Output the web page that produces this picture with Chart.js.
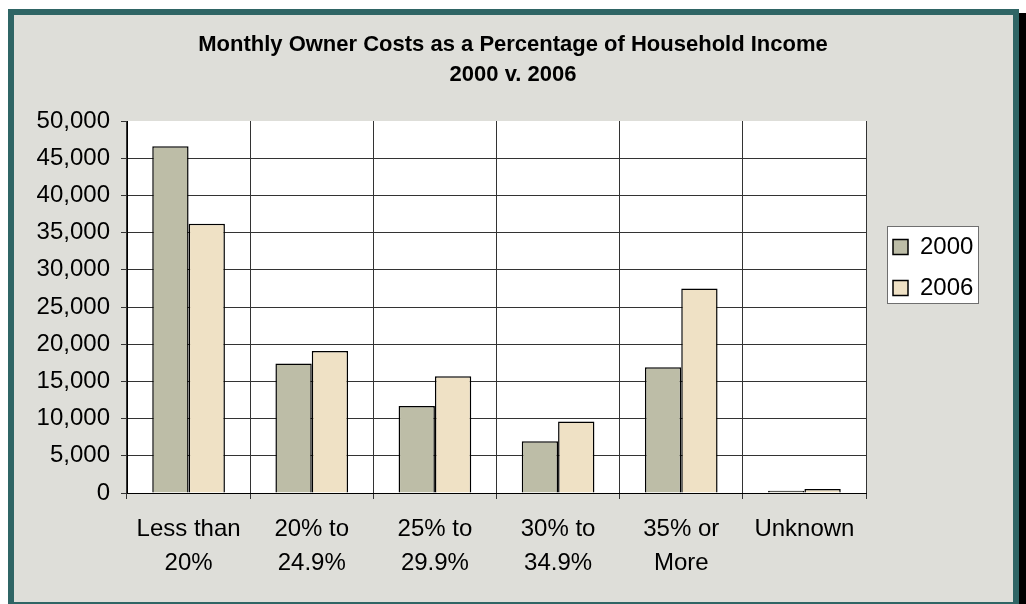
<!DOCTYPE html>
<html>
<head>
<meta charset="utf-8">
<script src="https://cdn.jsdelivr.net/npm/chart.js@4.4.0/dist/chart.umd.min.js"></script>
<style>
  html, body { margin: 0; padding: 0; background: #fff; }
  #wrap { position: relative; width: 1026px; height: 604px; overflow: hidden; }
  #frame { position: absolute; left: 8px; top: 9px; width: 999px; height: 587px;
           background: #DEDED9; border: 6px solid #2F6565; box-shadow: 7px 4px 0 #000; }
  #chart { position: absolute; left: 0; top: 0; }
</style>
</head>
<body>
<div id="wrap">
  <div id="frame"></div>
  <canvas id="chart" width="1026" height="604"></canvas>
</div>
<script>
// data
const categories = [['Less than', '20%'], ['20% to', '24.9%'], ['25% to', '29.9%'], ['30% to', '34.9%'], ['35% or', 'More'], ['Unknown']];
const seriesNames = ['2000', '2006'];
const values2000 = [46600, 17400, 11700, 6950, 16900, 300];
const values2006 = [36200, 19100, 15700, 9600, 27500, 550];
const yMin = 0, yMax = 50000, yStep = 5000;
const titleLines = ['Monthly Owner Costs as a Percentage of Household Income', '2000 v. 2006'];

Chart.defaults.font.family = "'Liberation Sans', Arial, sans-serif";
Chart.defaults.color = '#000';

// white plot area, boxed legend, title centred on the whole frame
const plotBg = {
  id: 'plotBg',
  beforeDraw(chart) {
    const { ctx, chartArea: a, legend, titleBlock } = chart;
    ctx.save();
    ctx.fillStyle = '#fff';
    ctx.fillRect(a.left, a.top, a.right - a.left, a.bottom - a.top);
    legend.left = 876;
    legend.top = 218;
    legend.right = 990;
    legend.bottom = 320;
    legend.width = legend.right - legend.left;
    legend.height = legend.bottom - legend.top;
    titleBlock.left = 0;
    titleBlock.right = 1026;
    titleBlock.width = 1026;
    ctx.fillRect(887, 226, 92, 78);
    ctx.strokeStyle = '#6f6f6f';
    ctx.lineWidth = 1;
    ctx.strokeRect(887.5, 226.5, 91, 77);
    ctx.restore();
  }
};

const getCanvas = document.getElementById('chart');
let configChart = {
  type: 'bar',
  data: {
    labels: categories,
    datasets: [
      {
        label: seriesNames[0],
        data: values2000,
        backgroundColor: '#BDBDA7',
        borderColor: '#000',
        borderWidth: 1.5
      },
      {
        label: seriesNames[1],
        data: values2006,
        backgroundColor: '#EFE1C5',
        borderColor: '#000',
        borderWidth: 1.5
      }
    ]
  },
  options: {
    responsive: false,
    animation: false,
    devicePixelRatio: 1,
    datasets: { bar: { categoryPercentage: 0.59, barPercentage: 1 } },
    layout: { padding: { left: 16, right: 160, top: 0, bottom: 0 } },
    plugins: {
      tooltip: { enabled: false },
      title: {
        display: true,
        text: titleLines,
        font: { size: 22, weight: 'bold', lineHeight: 30 / 22 },
        padding: { top: 30, bottom: 31 },
        color: '#000'
      },
      legend: {
        position: 'chartArea',
        align: 'start',
        labels: {
          boxWidth: 15,
          boxHeight: 15,
          padding: 17,
          font: { size: 24 },
          color: '#000'
        }
      }
    },
    scales: {
      x: {
        grid: {
          offset: true,
          color: c => c.index === categories.length ? 'rgba(0,0,0,0)' : '#333',
          tickColor: '#333',
          tickLength: 6,
          lineWidth: 1
        },
        border: { color: '#000', width: 1 },
        ticks: { font: { size: 24, lineHeight: 33.5 / 24 }, padding: 14, maxRotation: 0, autoSkip: false },
        afterFit: s => { s.height = 111; }
      },
      y: {
        min: yMin,
        max: yMax,
        grid: {
          color: c => (c.tick && c.tick.value === yMax) ? 'rgba(0,0,0,0)' : '#333',
          tickColor: '#333',
          tickLength: 6,
          lineWidth: 1
        },
        border: { color: '#000', width: 1 },
        ticks: {
          stepSize: yStep,
          padding: 11,
          font: { size: 24 },
          callback: v => v.toLocaleString('en-US')
        },
        afterFit: s => { s.width = 111; }
      }
    }
  },
  plugins: [plotBg]
};
const canvas_chart = new Chart(getCanvas, configChart);
</script>
</body>
</html>
